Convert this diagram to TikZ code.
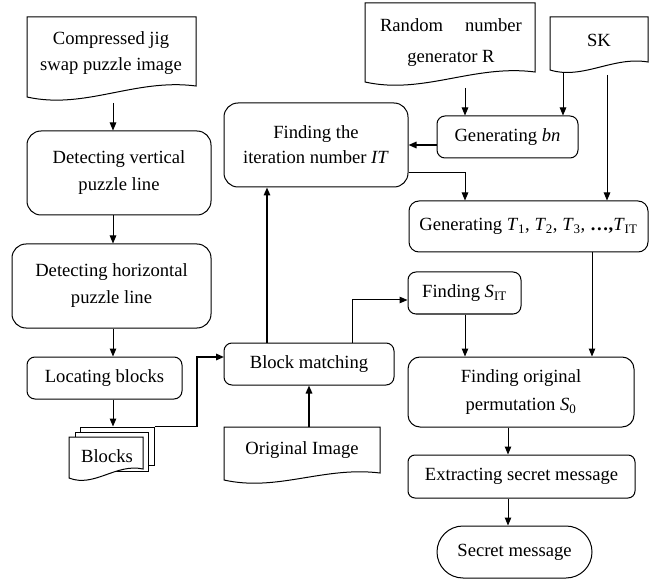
\documentclass[tikz,border=0pt]{standalone}
\usepackage{fontspec}
\setmainfont{Liberation Serif}
\usetikzlibrary{arrows.meta,shapes.misc}
\begin{document}
\begin{tikzpicture}[x=1pt,y=-1pt,
  font=\fontsize{18.6}{25}\selectfont,
  proc/.style={draw, rounded corners=#1, inner sep=0pt, align=center, line width=1pt},
  proc/.default=8pt,
  doc/.style={draw, line width=1pt, fill=white},
  lbl/.style={align=center, inner sep=0pt},
  arr/.style={-{Triangle[length=8pt,width=6.5pt]}, line width=1pt},
  arrthick/.style={arr, line width=1.5pt}]
\useasboundingbox (0,0) rectangle (651,580);

% ---------- documents ----------
\draw[doc] (27,97) -- (27,17) -- (196,17) -- (196,86) .. controls (135,78) and (85,110) .. (27,97) -- cycle;
\node[lbl, font=\fontsize{18.6}{26}\selectfont] (compT) at (111,53) {Compressed jig\\swap puzzle image};

\draw[doc] (365,82) -- (365,3) -- (535,3) -- (535,72) .. controls (474,64) and (423,95) .. (365,82) -- cycle;
\node[lbl, font=\fontsize{18.6}{31}\selectfont] (RT) at (451,43) {Random\hspace{22pt}number\\generator R};

\draw[doc] (550,70) -- (550,17) -- (648,17) -- (648,62) .. controls (613,56) and (583,80) .. (550,70) -- cycle;
\node[lbl] (SKT) at (599,40) {SK};

\node[doc, minimum width=74pt, minimum height=38pt, inner sep=0pt] (blkback) at (117,446) {};
\node[doc, minimum width=73pt, minimum height=39pt, inner sep=0pt] (blkmid) at (111.5,451.5) {};
\draw[doc] (69,478) -- (69,437) -- (143,437) -- (143,469) .. controls (116,463) and (94,488) .. (69,478) -- cycle;
\node[lbl] (blocksT) at (107,456) {Blocks};

\draw[doc] (224,480) -- (224,427) -- (380,427) -- (380,473) .. controls (324,466) and (277,492) .. (224,480) -- cycle;
\node[lbl] (origT) at (302,450) {Original Image};

% ---------- process boxes ----------
\node[proc=14pt, minimum width=184pt, minimum height=84pt, font=\fontsize{18.6}{27}\selectfont] (vert) at (119,173) {Detecting vertical\\puzzle line};
\node[proc=14pt, minimum width=199pt, minimum height=84pt, font=\fontsize{18.6}{27}\selectfont] (horiz) at (111.5,286) {Detecting horizontal\\puzzle line};
\node[proc, minimum width=155pt, minimum height=42pt] (locate) at (104.5,378) {Locating blocks};
\node[proc=14pt, minimum width=184pt, minimum height=84pt] (IT) at (316,145) {Finding the\\iteration number \textit{IT}};
\node[proc, minimum width=141pt, minimum height=42pt] (bn) at (507.5,137) {Generating \textit{bn}};
\node[proc=10pt, minimum width=239pt, minimum height=51pt] (T) at (528.5,226.5) {Generating \textit{T}\textsubscript{1}, \textit{T}\textsubscript{2}, \textit{T}\textsubscript{3}, {\bfseries\ldots,}\textit{T}\textsubscript{IT}};
\node[proc, minimum width=170pt, minimum height=42pt] (match) at (309,364) {Block matching};
\node[proc, minimum width=113pt, minimum height=42pt] (SIT) at (464.5,293) {Finding \textit{S}\textsubscript{IT}};
\node[proc=12pt, minimum width=226pt, minimum height=70pt, font=\fontsize{18.6}{28}\selectfont] (perm) at (521,392) {Finding original\\permutation \textit{S}\textsubscript{0}};
\node[proc=7pt, minimum width=227pt, minimum height=43pt] (extract) at (521.5,476.5) {Extracting secret message};
\node[draw, rounded rectangle, line width=1pt, minimum width=155pt, minimum height=52pt, inner sep=0pt] (secret) at (514.5,552) {Secret message};

% ---------- helper coordinates ----------
\coordinate (xA) at (113,0);
\coordinate (compB) at (113,103);
\coordinate (bend1) at (197,0);
\coordinate (jn) at (224,357);
\coordinate (xB) at (267,0);
\coordinate (origTop) at (309,427);
\coordinate (xC) at (352,0);
\coordinate (yS) at (0,300);
\coordinate (Rb) at (465,88);
\coordinate (SKb1) at (563,73);
\coordinate (SKb2) at (607,75);
\coordinate (yBn) at (0,145);
\coordinate (yD) at (0,173);
\coordinate (xE) at (465,0);
\coordinate (xF) at (592,0);
\coordinate (xG) at (508,0);

% ---------- connectors ----------
\draw[arr] (compB) -- (compB |- vert.north);
\draw[arr] (vert.south -| xA) -- (horiz.north -| xA);
\draw[arr] (horiz.south -| xA) -- (locate.north -| xA);
\draw[arr] (locate.south -| xA) -- (blkback.north -| xA);
\draw[arrthick] (blkback.north east) -| (bend1 |- jn) -- (jn);
\draw[arrthick] (match.north -| xB) -- (IT.south -| xB);
\draw[arrthick] (origTop) -- (origTop |- match.south);
\draw[arr] (match.north -| xC) |- (SIT.west |- yS);
\draw[arr] (Rb) -- (Rb |- bn.north);
\draw[arr] (SKb1) -- (SKb1 |- bn.north);
\draw[arr] (SKb2) -- (SKb2 |- T.north);
\draw[arrthick] (bn.west |- yBn) -- (IT.east |- yBn);
\draw[arr] (IT.east |- yD) -| (xE |- T.north);
\draw[arr] (T.south -| xF) -- (perm.north -| xF);
\draw[arr] (SIT.south -| xE) -- (perm.north -| xE);
\draw[arr] (perm.south -| xG) -- (extract.north -| xG);
\draw[arr] (extract.south -| xG) -- (secret.north -| xG);
\end{tikzpicture}
\end{document}
